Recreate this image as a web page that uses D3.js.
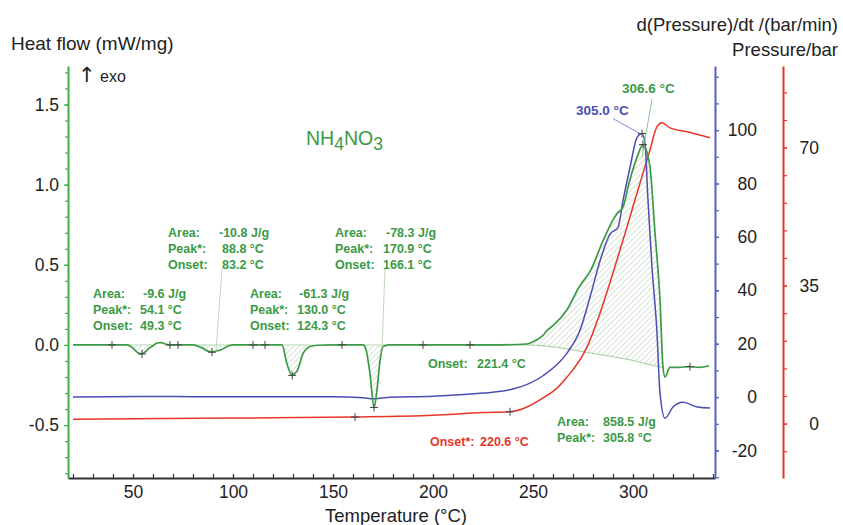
<!DOCTYPE html>
<html><head><meta charset="utf-8">
<script src="https://cdn.jsdelivr.net/npm/d3@7"></script>
<style>body{margin:0;background:#fff;} svg{display:block;}</style>
</head><body>
<svg id="c" width="843" height="525"></svg>
<script>
// ---------- data ----------
const tempDomain = [17.5, 341];
const heatDomain = [-0.83, 1.74];
const rateDomain = [-30.3, 124];
const presDomain = [-13.8, 90.7];

const tempTicks = [50, 100, 150, 200, 250, 300];
const heatTicks = [-0.5, 0, 0.5, 1.0, 1.5];
const rateTicks = [-20, 0, 20, 40, 60, 80, 100];
const presTicks = [0, 35, 70];

// heat flow (DSC) curve
const heatT = [20, 40, 47, 50, 52, 54, 56, 58, 60, 62, 64, 67, 70, 80, 84, 89, 94, 98, 100, 110, 120,
  124.5, 126.9, 129.4, 131.9, 135.2, 138.5, 142, 150, 160, 165, 166.5, 168.5, 170.5, 172, 173.5, 175, 178,
  200, 230, 247, 250, 255, 257, 260, 267, 273, 279, 285, 292, 295, 298, 302, 305, 307, 308.5, 311, 313.5,
  315, 316, 318.5, 323, 328, 333, 338];
const heatV = [0, 0, 0, -0.02, -0.045, -0.056, -0.045, -0.02, -0.005, 0.012, 0.015, 0.002, 0, 0, -0.015, -0.045, -0.03, -0.005, 0, 0, 0,
  0, -0.114, -0.186, -0.166, -0.05, -0.01, -0.002, 0, 0, 0, -0.03, -0.18, -0.39, -0.28, -0.1, -0.01, 0,
  0, 0, 0.006, 0.02, 0.06, 0.09, 0.12, 0.22, 0.36, 0.47, 0.65, 0.82, 0.86, 1.01, 1.17, 1.25, 1.2, 1.11, 0.70, 0.28,
  -0.14, -0.2, -0.14, -0.14, -0.135, -0.14, -0.13];

// pressure rate curve
const rateT = [20, 60, 100, 150, 165, 170, 176, 200, 225, 240, 255, 266.5, 273.5, 278.5, 283.5, 288.5, 292.5, 295, 298.5, 302, 304.5, 306, 307.5, 309.5, 312, 313.5, 316, 320, 325, 332, 338.5];
const rateV = [0, 0.2, 0.1, 0.1, -0.2, -0.6, -0.2, 0.3, 1.5, 3.0, 8.0, 16, 25, 37.4, 51, 61, 63.5, 73.6, 86, 97.2, 98.7, 95, 73.6, 48.6, 24, 1.5, -7.9, -3.7, -1.9, -3.7, -4.1];

// pressure curve
const presT = [20, 100, 160, 200, 225, 238.5, 247, 255, 262, 267, 277, 283.5, 290, 297, 303.5, 308.5, 312, 314.5, 318.5, 327, 338.5];
const presV = [1.1, 1.4, 1.65, 2.1, 2.8, 3.0, 4.2, 6.5, 9.0, 11.8, 19.4, 28, 38.2, 49.9, 61, 69.4, 75.3, 76.3, 75, 74, 72.5];

// integration baseline of the main exotherm
const baseT = [218.5, 247, 262, 278.5, 298.5, 313.5, 315];
const baseV = [0, 0, -0.015, -0.05, -0.093, -0.137, -0.14];

// hatched peak ranges (temperature)
const dipRanges = [[47, 61], [80, 99], [124.5, 139], [165, 177]];
const mainRange = [247, 314.7];

// evaluation markers
const heatMarkT = [39.5, 54.5, 68.5, 72.5, 89.5, 110, 116, 129.6, 154.5, 170.5, 195, 218.5, 305, 328.5];
const heatMarkV = [0, -0.056, 0, 0, -0.045, 0, 0, -0.19, 0, -0.39, 0, 0, 1.25, -0.135];
const rateMarkT = [304.5];
const rateMarkV = [98.7];
const presMarkT = [161, 238.5];
const presMarkV = [1.65, 3.0];

// ---------- drawing ----------
const svg = d3.select('#c');
const GREEN = '#3a9a45', AXG = '#3fae4c', BLUE = '#4b4db3', RED = '#e8352b', TXT = '#222';
const x = d3.scaleLinear().domain(tempDomain).range([68, 715]);
const yH = d3.scaleLinear().domain(heatDomain).range([478, 66]);
const yB = d3.scaleLinear().domain(rateDomain).range([478, 66]);
const yP = d3.scaleLinear().domain(presDomain).range([478, 66]);

const defs = svg.append('defs');
const pat = defs.append('pattern').attr('id', 'hatch').attr('patternUnits', 'userSpaceOnUse')
  .attr('width', 4).attr('height', 4).attr('patternTransform', 'rotate(45)');
pat.append('line').attr('x1', 0).attr('y1', 0).attr('x2', 0).attr('y2', 4)
  .attr('stroke', '#a9bda5').attr('stroke-width', 0.9);

function interp(Ts, Vs, t) {
  if (t <= Ts[0]) return Vs[0];
  for (let i = 1; i < Ts.length; i++) {
    if (t <= Ts[i]) { const f = (t - Ts[i-1]) / (Ts[i] - Ts[i-1]); return Vs[i-1] + f * (Vs[i] - Vs[i-1]); }
  }
  return Vs[Vs.length - 1];
}

// hatched areas
function hatch(range, baseFn) {
  const pts = [range[0]];
  heatT.forEach(t => { if (t > range[0] && t < range[1]) pts.push(t); });
  pts.push(range[1]);
  const area = d3.area().x(t => x(t)).y0(t => yH(baseFn(t))).y1(t => yH(interp(heatT, heatV, t))).curve(d3.curveMonotoneX);
  svg.append('path').attr('d', area(pts)).attr('fill', 'url(#hatch)').attr('stroke', 'none');
}
dipRanges.forEach(r => hatch(r, () => 0));
hatch(mainRange, t => interp(baseT, baseV, t));

// baseline of main peak
svg.append('path').attr('d', d3.line().x((d,i) => x(baseT[i])).y(d => yH(d)).curve(d3.curveMonotoneX)(baseV))
  .attr('fill', 'none').attr('stroke', '#9fcf9a').attr('stroke-width', 1);
// small dip baselines
dipRanges.forEach(r => {
  svg.append('line').attr('x1', x(r[0])).attr('x2', x(r[1])).attr('y1', yH(0)).attr('y2', yH(0))
    .attr('stroke', '#b5d9b0').attr('stroke-width', 1);
});

// axes
function styleAxis(g, color) {
  g.selectAll('.domain').attr('stroke', color).attr('stroke-width', 2);
  g.selectAll('.tick line').attr('stroke', color).attr('stroke-width', 1.2);
  g.selectAll('text').attr('fill', TXT).style('font-family', 'Liberation Sans, Arial, sans-serif').style('font-size', '17.5px');
}
// bottom
const gx = svg.append('g').attr('transform', 'translate(0,478)')
  .call(d3.axisBottom(x).tickValues(d3.range(20, 341, 10)).tickFormat('').tickSize(-4).tickSizeOuter(0));
styleAxis(gx, '#333');
const gx2 = svg.append('g').attr('transform', 'translate(0,478)')
  .call(d3.axisBottom(x).tickValues(tempTicks).tickFormat(d => d).tickSize(-4).tickPadding(8).tickSizeOuter(0));
styleAxis(gx2, '#333');
gx2.select('.domain').remove();

// left
const gl = svg.append('g').attr('transform', 'translate(68,0)')
  .call(d3.axisLeft(yH).tickValues(d3.range(-8, 18, 1).map(d => d / 10)).tickFormat('').tickSize(3).tickSizeOuter(0));
styleAxis(gl, AXG);
const gl2 = svg.append('g').attr('transform', 'translate(68,0)')
  .call(d3.axisLeft(yH).tickValues(heatTicks).tickFormat(d => d.toFixed(1)).tickSize(4).tickPadding(5).tickSizeOuter(0));
styleAxis(gl2, AXG);
gl2.select('.domain').remove();

// blue right
const gb = svg.append('g').attr('transform', 'translate(715,0)')
  .call(d3.axisRight(yB).tickValues(d3.range(-30, 121, 10)).tickFormat('').tickSize(4).tickSizeOuter(0));
styleAxis(gb, '#5a5cc4');
const gb2 = svg.append('g').attr('transform', 'translate(715,0)')
  .call(d3.axisRight(yB).tickValues(rateTicks).tickFormat(d => d).tickSize(4).tickSizeOuter(0));
styleAxis(gb2, '#5a5cc4');
gb2.select('.domain').remove();
gb2.selectAll('text').attr('text-anchor', 'end').attr('x', 42);

// red right
const gr = svg.append('g').attr('transform', 'translate(783,0)')
  .call(d3.axisRight(yP).tickValues(d3.range(-7, 91, 7)).tickFormat('').tickSize(4).tickSizeOuter(0));
styleAxis(gr, RED);
const gr2 = svg.append('g').attr('transform', 'translate(783,0)')
  .call(d3.axisRight(yP).tickValues(presTicks).tickFormat(d => d).tickSize(4).tickSizeOuter(0));
styleAxis(gr2, RED);
gr2.select('.domain').remove();
gr2.selectAll('text').attr('text-anchor', 'end').attr('x', 36);

// curves
const lineOf = (Ts, ys) => d3.line().x((d, i) => x(Ts[i])).y(d => ys(d)).curve(d3.curveMonotoneX);
svg.append('path').attr('d', lineOf(presT, yP)(presV)).attr('fill', 'none').attr('stroke', RED).attr('stroke-width', 1.5);
svg.append('path').attr('d', lineOf(rateT, yB)(rateV)).attr('fill', 'none').attr('stroke', BLUE).attr('stroke-width', 1.5);
svg.append('path').attr('d', lineOf(heatT, yH)(heatV)).attr('fill', 'none').attr('stroke', GREEN).attr('stroke-width', 1.7);

// leader lines (data coords)
function leader(t1, v1, t2, v2, ys, color) {
  svg.append('line').attr('x1', x(t1)).attr('y1', ys(v1)).attr('x2', x(t2)).attr('y2', ys(v2))
    .attr('stroke', color).attr('stroke-width', 0.9);
}
leader(94.5, 0.478, 91.5, -0.043, yH, '#b9d3b4');
leader(176, 0.478, 174.5, -0.02, yH, '#b9d3b4');
leader(309.5, 1.534, 304.5, 1.168, yH, '#7fbf7f');
leader(290, 104.3, 303.5, 98.7, yB, '#7c7fcc');

// markers
function marks(Ts, Vs, ys) {
  Ts.forEach((t, i) => {
    const cx = x(t), cy = ys(Vs[i]);
    svg.append('path').attr('d', `M${cx-4},${cy}H${cx+4}M${cx},${cy-4}V${cy+4}`)
      .attr('stroke', '#444').attr('stroke-width', 1);
  });
}
marks(heatMarkT, heatMarkV, yH);
marks(rateMarkT, rateMarkV, yB);
marks(presMarkT, presMarkV, yP);

// texts
const FONT = 'Liberation Sans, Arial, sans-serif';
function txt(s, px, py, size, color, weight, anchor) {
  return svg.append('text').attr('x', px).attr('y', py).text(s)
    .style('font-family', FONT).style('font-size', size + 'px').style('font-weight', weight || 'normal')
    .attr('fill', color).attr('text-anchor', anchor || 'start');
}
txt('Heat flow (mW/mg)', 11, 50, 19, TXT);
const ex = svg.append('text').attr('x', 78).attr('y', 82).attr('fill', TXT)
  .style('font-family', FONT).style('font-size', '16px');
ex.append('tspan').text('↑').style('font-size', '21px').style('font-family', 'DejaVu Sans, sans-serif');
ex.append('tspan').text(' exo');
txt('d(Pressure)/dt /(bar/min)', 838, 31, 18.5, TXT, 'normal', 'end');
txt('Pressure/bar', 838, 56, 18.5, TXT, 'normal', 'end');
txt('Temperature (°C)', 396, 522, 18.5, TXT, 'normal', 'middle');

// formula
const f = svg.append('text').attr('x', 306).attr('y', 145).attr('fill', GREEN)
  .style('font-family', FONT).style('font-size', '19.5px');
f.append('tspan').text('NH');
f.append('tspan').text('4').attr('dy', 5).style('font-size', '17.5px');
f.append('tspan').text('NO').attr('dy', -5);
f.append('tspan').text('3').attr('dy', 5).style('font-size', '17.5px');

// annotation blocks
function block(lines, lx, vxs, y0, color) {
  lines.forEach((l, i) => {
    txt(l[0], lx, y0 + i * 16, 12.5, color, 'bold');
    txt(l[1], vxs[i], y0 + i * 16, 12.5, color, 'bold');
  });
}
block([['Area:', '-9.6 J/g'], ['Peak*:', '54.1 °C'], ['Onset:', '49.3 °C']], 93, [143, 140, 140], 298, GREEN);
block([['Area:', '-10.8 J/g'], ['Peak*:', '88.8 °C'], ['Onset:', '83.2 °C']], 168, [219, 222, 222], 237, GREEN);
block([['Area:', '-61.3 J/g'], ['Peak*:', '130.0 °C'], ['Onset:', '124.3 °C']], 250, [299, 297, 297], 298, GREEN);
block([['Area:', '-78.3 J/g'], ['Peak*:', '170.9 °C'], ['Onset:', '166.1 °C']], 335, [386, 383, 383], 237, GREEN);
block([['Onset:', '221.4 °C']], 428, [477], 368, GREEN);
block([['Onset*:', '220.6 °C']], 430, [480], 446, RED);
block([['Area:', '858.5 J/g'], ['Peak*:', '305.8 °C']], 557, [603, 603], 426, GREEN);
txt('306.6 °C', 622, 93, 13.5, GREEN, 'bold');
txt('305.0 °C', 576, 115, 13.5, BLUE, 'bold');
</script>
</body></html>
